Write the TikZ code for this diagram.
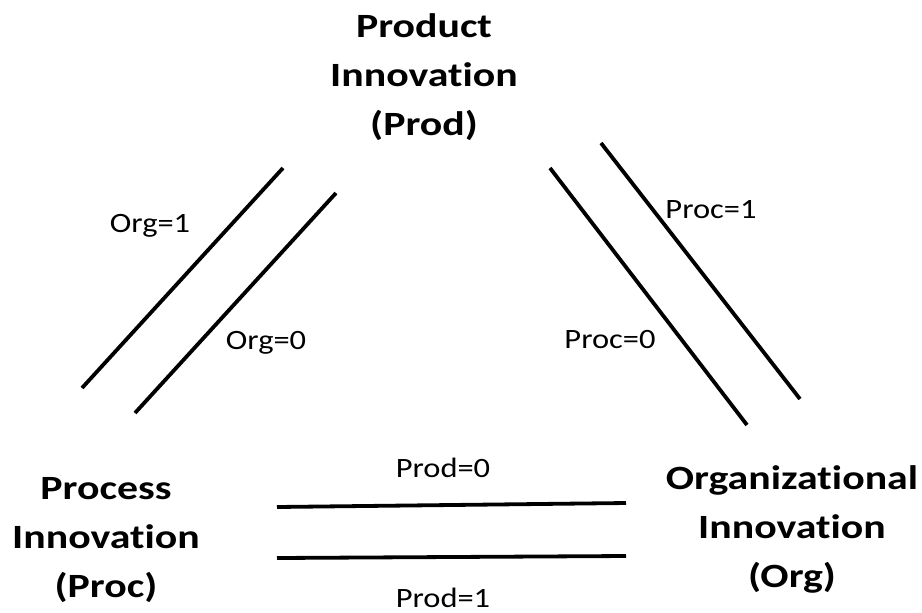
\documentclass[tikz,border=0pt]{standalone}
\usepackage{fontspec}
\setmainfont{Carlito}[Ligatures=NoCommon]
\usetikzlibrary{positioning}
\tikzset{title/.style = {align=center, anchor=base, xscale=1.23,
                         font=\fontsize{17}{24.5}\selectfont\bfseries},
         cut/.style = {anchor=base, xscale=1.16, font=\fontsize{14}{16}\selectfont},
         bar/.style = {line width=1.9pt}}

\begin{document}
\begin{tikzpicture}[x=0.5pt, y=-0.5pt]
    \useasboundingbox (0, 0) rectangle (922, 612);
    \node (prod) at (424, 135) [title] {Product\\Innovation\\(Prod)};
    \node (proc) at (106, 597) [title] {Process\\Innovation\\(Proc)};
    \node (org) at (792, 587) [title] {Organizational\\Innovation\\(Org)};
    % Prod -- Proc
    \coordinate (a1) at (82, 388);  \coordinate (b1) at (283, 168);
    \coordinate (a0) at (135, 413); \coordinate (b0) at (336, 193);
    \draw [bar] (a1) -- (b1);
    \draw [bar] (a0) -- (b0);
    \node (org1) at (150, 232) [cut] {Org=1};
    \node (org0) at (266, 349) [cut] {Org=0};
    % Prod -- Org
    \coordinate (c0) at (550, 168); \coordinate (d0) at (747, 425);
    \coordinate (c1) at (601, 143); \coordinate (d1) at (800, 399);
    \draw [bar] (c0) -- (d0);
    \draw [bar] (c1) -- (d1);
    \node (proc1) at (711, 218) [cut] {Proc=1};
    \node (proc0) at (610, 348) [cut] {Proc=0};
    % Proc -- Org
    \coordinate (e0) at (277, 507); \coordinate (f0) at (626, 503);
    \coordinate (e1) at (277, 558); \coordinate (f1) at (626, 556);
    \draw [bar] (e0) -- (f0);
    \draw [bar] (e1) -- (f1);
    \node (prod0) at (443, 477) [cut] {Prod=0};
    \node (prod1) at (443, 607) [cut] {Prod=1};
\end{tikzpicture}
\end{document}
